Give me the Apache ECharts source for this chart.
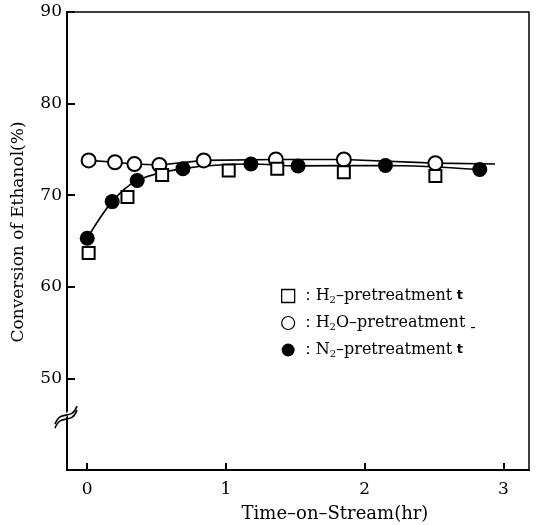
<!DOCTYPE html>
<html>
<head>
<meta charset="utf-8">
<script src="https://cdn.jsdelivr.net/npm/echarts@6/dist/echarts.min.js"></script>
<style>html,body{margin:0;padding:0;background:#fff}#c{width:536px;height:525px}</style>
</head>
<body>
<div id="c"></div>
<script>
// ---- data ----
const xTicks = [0, 1, 2, 3];
const yTicks = [50, 60, 70, 80, 90];

const h2X = [0.01, 0.29, 0.54, 1.02, 1.37, 1.85, 2.51];
const h2Y = [63.7, 69.8, 72.2, 72.7, 72.9, 72.5, 72.1];

const h2oX = [0.01, 0.20, 0.34, 0.52, 0.84, 1.36, 1.85, 2.51];
const h2oY = [73.8, 73.6, 73.4, 73.3, 73.8, 73.9, 73.9, 73.5];
const h2oLineEnd = [2.94, 73.4];

const n2X = [0.00, 0.18, 0.36, 0.69, 1.18, 1.52, 2.15, 2.83];
const n2Y = [65.3, 69.3, 71.6, 72.9, 73.4, 73.2, 73.25, 72.8];

// ---- build ----
const zip = (xs, ys) => xs.map((x, i) => [x, ys[i]]);
const FONT = 'DejaVu Serif';
const h2oData = zip(h2oX, h2oY).concat([{ value: h2oLineEnd, symbol: 'none' }]);

const chart = echarts.init(document.getElementById('c'), null, { renderer: 'canvas' });

const legendText = {
  H2: '：{n|H}{s|2}{n|–pretreatment}{t| t}',
  H2O: '：{n|H}{s|2}{n|O–pretreatment}{t| ˍ}',
  N2: '：{n|N}{s|2}{n|–pretreatment}{t| t}'
};

const option = {
  backgroundColor: '#fff',
  animation: false,
  textStyle: { fontFamily: FONT, color: '#000' },
  grid: { left: 67, right: 7, top: 12, bottom: 55, outerBoundsMode: 'none', containLabel: false,
          show: true, borderColor: '#000', borderWidth: 1.5 },
  xAxis: {
    type: 'value', min: -0.146, max: 3.185,
    name: 'Time–on–Stream(hr)', nameLocation: 'middle', nameGap: 35,
    nameTextStyle: { fontFamily: FONT, fontSize: 18, color: '#000', padding: [0, 0, 0, 74] },
    axisLine: { onZero: false, lineStyle: { color: '#000', width: 2 } },
    axisTick: { inside: true, length: 7, customValues: xTicks, lineStyle: { color: '#000', width: 2 } },
    axisLabel: { customValues: xTicks, fontFamily: FONT, fontSize: 17, color: '#000', margin: 11 },
    splitLine: { show: false }
  },
  yAxis: {
    type: 'value', min: 40, max: 90,
    name: 'Conversion of Ethanol(%)', nameLocation: 'middle', nameGap: 40,
    nameTextStyle: { fontFamily: FONT, fontSize: 17, color: '#000', padding: [0, 0, 0, 18] },
    axisLine: { onZero: false, lineStyle: { color: '#000', width: 2 } },
    axisTick: { inside: true, length: 8, customValues: yTicks, lineStyle: { color: '#000', width: 2 } },
    axisLabel: { customValues: yTicks, fontFamily: FONT, fontSize: 17, color: '#000', margin: 5 },
    splitLine: { show: false }
  },
  legend: {
    orient: 'vertical', left: 276, top: 283, itemGap: 10,
    itemWidth: 13, itemHeight: 13,
    data: [
      { name: 'H2', icon: 'path://M2,2 L11,2 L11,11 L2,11 Z', itemStyle: { color: '#fff', borderColor: '#000', borderWidth: 1.3 } },
      { name: 'H2O', icon: 'path://M11.5,6.5 A5,5 0 1 1 1.5,6.5 A5,5 0 1 1 11.5,6.5 Z', itemStyle: { color: '#fff', borderColor: '#000', borderWidth: 1.2 } },
      { name: 'N2', icon: 'circle', itemStyle: { color: '#000' } }
    ],
    formatter: (name) => legendText[name],
    textStyle: {
      fontFamily: FONT, fontSize: 16, color: '#000',
      rich: {
        n: { fontFamily: FONT, fontSize: 16, color: '#000' },
        s: { fontFamily: FONT, fontSize: 10, color: '#000', verticalAlign: 'bottom', padding: [8, 0, 0, 0] },
        t: { fontFamily: 'DejaVu Sans', fontSize: 13, fontWeight: 'bold', color: '#000' }
      }
    }
  },
  series: [
    {
      name: 'N2', type: 'line', data: zip(n2X, n2Y), smooth: 0.35,
      symbol: 'circle', symbolSize: 15,
      itemStyle: { color: '#000' },
      lineStyle: { color: '#000', width: 1.6 }, z: 3
    },
    {
      name: 'H2O', type: 'line', data: h2oData,
      symbol: 'circle', symbolSize: 14,
      itemStyle: { color: '#fff', borderColor: '#000', borderWidth: 2 },
      lineStyle: { color: '#000', width: 1.6 }, z: 4
    },
    {
      name: 'H2', type: 'scatter', data: zip(h2X, h2Y),
      symbol: 'rect', symbolSize: 12,
      itemStyle: { color: '#fff', borderColor: '#000', borderWidth: 2, opacity: 1 }, z: 5
    }
  ]
};
chart.setOption(option);

// axis-break mark on the y axis
const p = chart.convertToPixel({ gridIndex: 0 }, [-0.146, 46.1]);
const wave = (dy) => ({
  type: 'bezierCurve',
  shape: { x1: p[0] - 12, y1: p[1] + 10 + dy, x2: p[0] + 10, y2: p[1] - 8 + dy,
           cpx1: p[0] - 6, cpy1: p[1] - 6 + dy, cpx2: p[0] + 4, cpy2: p[1] + 8 + dy },
  style: { stroke: '#000', lineWidth: 1.6, fill: null }, z: 100
});
chart.setOption({
  graphic: [
    { type: 'polygon', shape: { points: [[p[0]-13, p[1]+8], [p[0]+11, p[1]-10], [p[0]+11, p[1]-6], [p[0]-13, p[1]+12]] },
      style: { fill: '#fff' }, z: 99 },
    wave(0), wave(4)
  ]
});
</script>
</body>
</html>
